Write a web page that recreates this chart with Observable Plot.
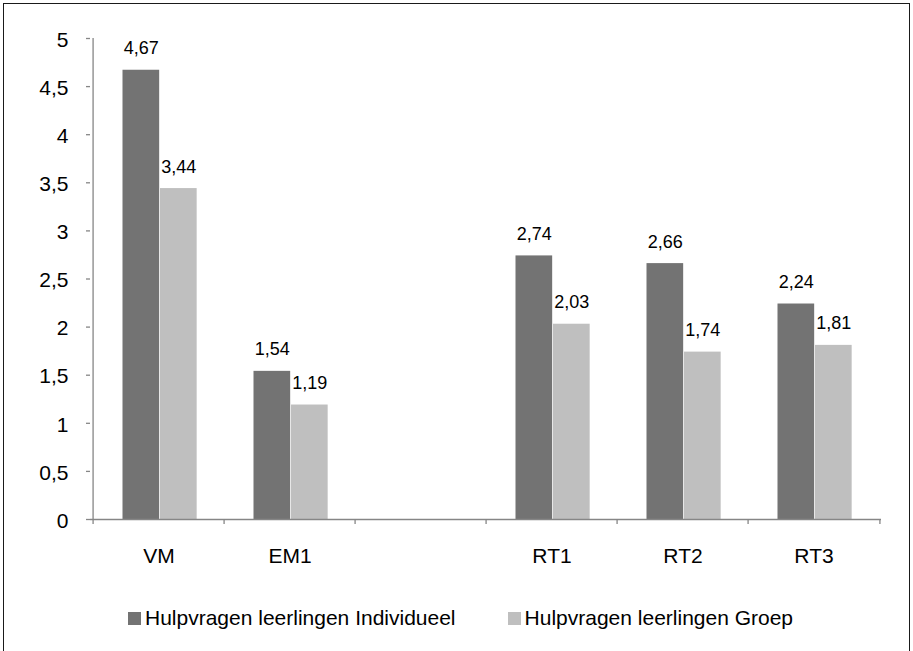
<!DOCTYPE html>
<html>
<head>
<meta charset="utf-8">
<script src="https://cdn.jsdelivr.net/npm/d3@7"></script>
<script src="https://cdn.jsdelivr.net/npm/@observablehq/plot@0.6"></script>
<style>
  html, body { margin: 0; padding: 0; background: #fff; overflow: hidden; }
  body { width: 913px; height: 651px; position: relative; font-family: Arial, "Liberation Sans", sans-serif; }
  #frame { position: absolute; left: 3px; top: 3px; width: 905px; height: 720px; border: 1.5px solid #1a1a1a; }
  #chart { position: absolute; left: 0; top: 0; }
  #legend { position: absolute; left: 128px; top: 606px; display: flex; align-items: center; font-size: 21px; line-height: 24px; color: #000; white-space: nowrap; }
  .item { display: flex; align-items: center; }
  .sw { width: 13px; height: 13px; margin-right: 4px; }
</style>
</head>
<body>
<div id="frame"></div>
<div id="chart"></div>
<div id="legend"></div>
<script>
const categories = ["VM", "EM1", " ", "RT1", "RT2", "RT3"];
const seriesNames = ["Hulpvragen leerlingen Individueel", "Hulpvragen leerlingen Groep"];
const individueel = [4.67, 1.54, null, 2.74, 2.66, 2.24];
const groep = [3.44, 1.19, null, 2.03, 1.74, 1.81];
const yTicks = [0, 0.5, 1, 1.5, 2, 2.5, 3, 3.5, 4, 4.5, 5];
const colors = ["#737373", "#bfbfbf"];

const W = 913, H = 580, mL = 90, mR = 32, mT = 38, mB = 61;
const step = (W - mL - mR) / categories.length;
const barW = 37.5, off = 29.5;
const fmt = v => v.toFixed(2).replace(".", ",");

const rows = [];
categories.forEach((c, i) => {
  if (individueel[i] != null) rows.push({cat: c, s: 0, v: individueel[i]});
  if (groep[i] != null) rows.push({cat: c, s: 1, v: groep[i]});
});
const r0 = rows.filter(d => d.s === 0), r1 = rows.filter(d => d.s === 1);
const axisColor = "#868686";

const plot = Plot.plot({
  width: W, height: H,
  marginLeft: mL, marginRight: mR, marginTop: mT, marginBottom: mB,
  style: {fontSize: "21px", fontFamily: 'Arial, "Liberation Sans", sans-serif', background: "transparent", color: "#000"},
  x: {type: "band", domain: categories, padding: 0},
  y: {domain: [0, 5]},
  marks: [
    Plot.barY(r0, {x: "cat", y: "v", fill: colors[0], insetLeft: off, insetRight: step - off - barW}),
    Plot.barY(r1, {x: "cat", y: "v", fill: colors[1], insetLeft: off + barW, insetRight: step - off - 2 * barW}),
    Plot.text(r0, {x: "cat", y: "v", text: d => fmt(d.v), lineAnchor: "bottom", dy: -16, dx: off + barW / 2 - step / 2, fill: "#000", fontSize: 18}),
    Plot.text(r1, {x: "cat", y: "v", text: d => fmt(d.v), lineAnchor: "bottom", dy: -16, dx: off + 1.5 * barW - step / 2, fill: "#000", fontSize: 18}),
    Plot.ruleY([0], {stroke: axisColor, strokeWidth: 1.3}),
    Plot.ruleX([categories[0]], {stroke: axisColor, strokeWidth: 1.3, dx: -step / 2}),
    Plot.ruleX(categories, {y1: 0, y2: 0, insetTop: 5, stroke: axisColor, strokeWidth: 1.3, dx: -step / 2}),
    Plot.ruleX([categories[categories.length - 1]], {y1: 0, y2: 0, insetTop: 5, stroke: axisColor, strokeWidth: 1.3, dx: step / 2}),
    Plot.axisY({ticks: yTicks, tickSize: 4, stroke: axisColor, strokeWidth: 1.3, tickFormat: () => "", label: null}),
    Plot.axisY({ticks: yTicks, tickSize: 0, tickPadding: 22, fill: "#000", fontSize: 21, dy: 1.5, tickFormat: d => String(d).replace(".", ","), label: null}),
    Plot.axisX({tickSize: 0, tickPadding: 29, fill: "#000", fontSize: 21, label: null})
  ]
});
document.getElementById("chart").appendChild(plot);

const legend = document.getElementById("legend");
seriesNames.forEach((n, i) => {
  const it = document.createElement("div");
  it.className = "item";
  if (i > 0) it.style.marginLeft = "52px";
  const sw = document.createElement("div");
  sw.className = "sw";
  sw.style.background = colors[i];
  const t = document.createElement("span");
  t.textContent = n;
  it.appendChild(sw); it.appendChild(t);
  legend.appendChild(it);
});
</script>
</body>
</html>
